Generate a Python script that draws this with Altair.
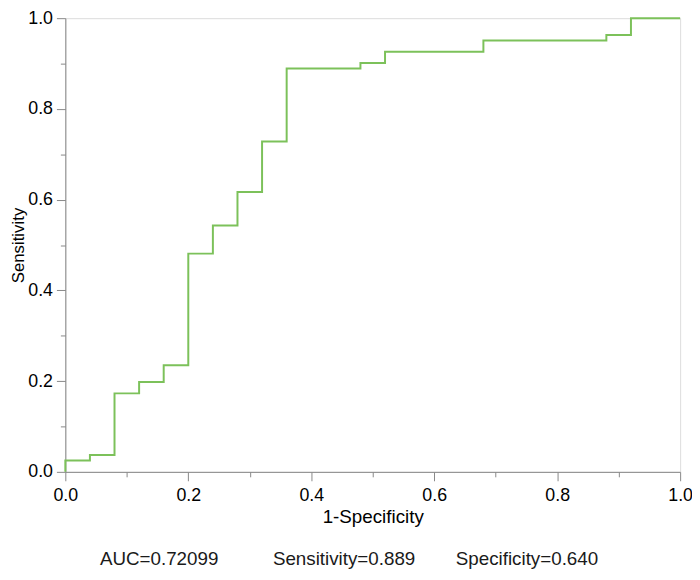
import altair as alt
import pandas as pd

# ROC curve corner points (step-after)
fpr = [0.0, 0.0, 0.04, 0.08, 0.12, 0.16, 0.20, 0.24, 0.28, 0.32, 0.36, 0.48, 0.52, 0.68, 0.88, 0.92, 1.0]
tpr = [0.0, 0.025, 0.037, 0.173, 0.198, 0.235, 0.481, 0.543, 0.617, 0.728, 0.889, 0.901, 0.926, 0.951, 0.963, 1.0, 1.0]

stat_labels = ["AUC=0.72099", "Sensitivity=0.889", "Specificity=0.640"]
stat_xpos = [35, 210, 395]

tick_values = [0.0, 0.1, 0.2, 0.3, 0.4, 0.5, 0.6, 0.7, 0.8, 0.9, 1.0]

df = pd.DataFrame({"fpr": fpr, "tpr": tpr})
stats = pd.DataFrame({"label": stat_labels, "px": stat_xpos})

FONT = "Liberation Sans"
GRAY = "#a0a0a0"
TXT = "#1a1a1a"
FS = 19
LFS = 18

cond_size = {"condition": {"test": "round(datum.value*10) % 2 == 0", "value": 9}, "value": 5}
label_expr = "round(datum.value*10) % 2 == 0 ? format(datum.value, '.1f') : ''"

x_axis = alt.Axis(values=tick_values, labelExpr=label_expr, tickSize=cond_size,
                  labelFlush=False, labelOverlap=False, grid=False,
                  title="1-Specificity", titleFontWeight="normal", titleFontSize=FS,
                  labelFontSize=LFS, labelPadding=6, titlePadding=3)
y_axis = alt.Axis(values=tick_values, labelExpr=label_expr, tickSize=cond_size,
                  labelFlush=False, labelOverlap=False, grid=False,
                  title="Sensitivity", titleFontWeight="normal", titleFontSize=17,
                  labelFontSize=LFS, labelPadding=4, titlePadding=0)

line = alt.Chart(df).mark_line(interpolate="step-after", color="#7cc15a", strokeWidth=2, clip=False).encode(
    x=alt.X("fpr:Q", scale=alt.Scale(domain=[0, 1], nice=False), axis=x_axis),
    y=alt.Y("tpr:Q", scale=alt.Scale(domain=[0, 1], nice=False), axis=y_axis),
)

text = alt.Chart(stats).mark_text(align="left", baseline="alphabetic", fontSize=FS, font=FONT, color=TXT).encode(
    x=alt.X("px:Q", scale=None),
    y=alt.value(553),
    text="label:N",
)

chart = alt.layer(line, text).properties(
    width=622, height=459,
    autosize=alt.AutoSizeParams(type="none"),
    padding={"left": 58, "top": 7, "right": 12, "bottom": 96},
).configure_view(
    stroke=GRAY, strokeWidth=2
).configure_axis(
    domainColor=GRAY, domainWidth=2, tickColor=GRAY, tickWidth=2,
    labelFont=FONT, titleFont=FONT, labelColor=TXT, titleColor=TXT,
).configure(background="white")

chart.save("out.html", embed_options={"renderer": "svg", "actions": False})
